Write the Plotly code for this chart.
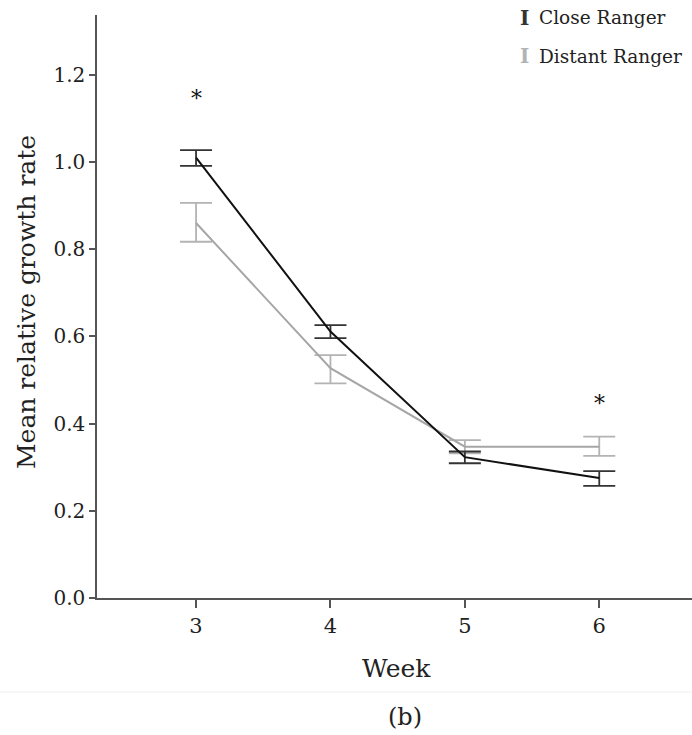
import plotly.graph_objects as go

weeks = [3, 4, 5, 6]
close_mean = [1.010, 0.611, 0.323, 0.275]
close_upper = [1.027, 0.626, 0.336, 0.291]
close_lower = [0.991, 0.596, 0.309, 0.257]
distant_mean = [0.860, 0.527, 0.347, 0.347]
distant_upper = [0.906, 0.557, 0.362, 0.370]
distant_lower = [0.817, 0.492, 0.332, 0.326]
y_ticks = [0.0, 0.2, 0.4, 0.6, 0.8, 1.0, 1.2]
star_weeks = [3, 6]
star_y = [1.145, 0.445]
series_names = ["Close Ranger", "Distant Ranger"]

FONT = "DejaVu Serif"
CLOSE_LINE = "#111111"
CLOSE_ERR = "#333333"
DIST_LINE = "#a6a6a6"
DIST_ERR = "#b3b3b3"

fig = go.Figure()

def add_series(name, mean, up, lo, line_col, err_col):
    fig.add_trace(go.Scatter(
        x=weeks, y=mean, mode="lines", name=name,
        line=dict(color=line_col, width=2),
        error_y=dict(type="data", symmetric=False,
                     array=[u - m for u, m in zip(up, mean)],
                     arrayminus=[m - l for m, l in zip(mean, lo)],
                     color=err_col, thickness=1.8, width=16),
        showlegend=False,
    ))

add_series(series_names[1], distant_mean, distant_upper, distant_lower, DIST_LINE, DIST_ERR)
add_series(series_names[0], close_mean, close_upper, close_lower, CLOSE_LINE, CLOSE_ERR)

L, R, T, B = 97, 0, 15, 137
W, H = 692, 735
pw, ph = W - L - R, H - T - B

def px_x(px):
    return (px - L) / pw

def px_y(py):
    return (H - B - py) / ph

annotations = []
for xw, ys in zip(star_weeks, star_y):
    annotations.append(dict(x=xw, y=ys, xref="x", yref="y", text="*", showarrow=False,
                            font=dict(family=FONT, size=22, color="#111")))

# custom legend
leg = [(series_names[0], CLOSE_ERR, 18), (series_names[1], DIST_ERR, 56)]
for name, col, py in leg:
    annotations.append(dict(x=px_x(518), y=px_y(py), xref="paper", yref="paper", text="<b>I</b>",
                            showarrow=False, xanchor="left", yanchor="middle",
                            font=dict(family=FONT, size=20, color=col)))
    annotations.append(dict(x=px_x(537), y=px_y(py), xref="paper", yref="paper", text=name,
                            showarrow=False, xanchor="left", yanchor="middle",
                            font=dict(family=FONT, size=18.5, color="#222")))

annotations.append(dict(x=px_x(396), y=px_y(668), xref="paper", yref="paper", text="Week",
                        showarrow=False, xanchor="center", yanchor="middle",
                        font=dict(family=FONT, size=25, color="#222")))
annotations.append(dict(x=px_x(405), y=px_y(717), xref="paper", yref="paper", text="(b)",
                        showarrow=False, xanchor="center", yanchor="middle",
                        font=dict(family=FONT, size=24, color="#222")))
annotations.append(dict(x=px_x(26), y=px_y(302), xref="paper", yref="paper",
                        text="Mean relative growth rate", textangle=-90,
                        showarrow=False, xanchor="center", yanchor="middle",
                        font=dict(family=FONT, size=25, color="#222")))

fig.update_layout(
    width=W, height=H,
    margin=dict(l=L, r=R, t=T, b=B),
    paper_bgcolor="white", plot_bgcolor="white",
    annotations=annotations,
    shapes=[dict(type="line", xref="paper", yref="paper", x0=px_x(0), x1=1,
                 y0=px_y(692), y1=px_y(692), line=dict(color="#f0f0f0", width=1))],
    xaxis=dict(range=[2.263, 6.69], tickvals=weeks, ticktext=[str(w) for w in weeks],
               showgrid=False, zeroline=False, showline=True, linecolor="#555", linewidth=1.5,
               ticks="outside", ticklen=8, tickcolor="#555", tickwidth=1.5,
               tickfont=dict(family=FONT, size=21, color="#222")),
    yaxis=dict(range=[0, 1.337], tickvals=y_ticks, ticktext=[f"{v:.1f}" for v in y_ticks],
               showgrid=False, zeroline=False, showline=True, linecolor="#555", linewidth=1.5,
               ticks="outside", ticklen=6, tickcolor="#555", tickwidth=1.5,
               tickfont=dict(family=FONT, size=20, color="#222")),
)

fig.write_html("out.html")
